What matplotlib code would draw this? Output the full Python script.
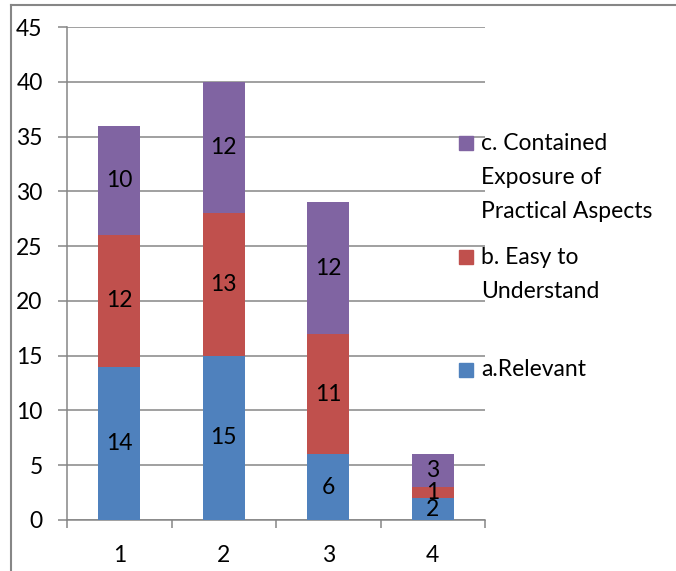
import matplotlib
matplotlib.use("Agg")
import matplotlib.pyplot as plt
from matplotlib.patches import Rectangle
from matplotlib.lines import Line2D
import numpy as np

plt.rcParams['font.family'] = ['Lato', 'DejaVu Sans']

categories = ['1', '2', '3', '4']
relevant = [14, 15, 6, 2]
easy = [12, 13, 11, 1]
practical = [10, 12, 12, 3]

series_names = ['a.Relevant', 'b. Easy to\nUnderstand', 'c. Contained\nExposure of\nPractical Aspects']
series_values = [relevant, easy, practical]
colors = ['#4F81BD', '#C0504D', '#8064A2']

W, H = 676, 571
fig = plt.figure(figsize=(W / 100, H / 100), dpi=100)
ax = fig.add_axes([67 / W, (H - 520) / H, (485 - 67) / W, (520 - 27) / H])

fs = 16.5
grid_c = '#868686'
x = np.arange(1, len(categories) + 1)
bottom = np.zeros(len(categories))
for vals, col in zip(series_values, colors):
    vals = np.array(vals, dtype=float)
    ax.bar(x, vals, 0.4, bottom=bottom, color=col, zorder=3)
    for xi, b, v in zip(x, bottom, vals):
        ax.text(xi, b + v / 2, f'{int(v)}', ha='center', va='center',
                fontsize=fs, color='black', zorder=4)
    bottom += vals

ax.set_xlim(0.5, 4.5)
ax.set_ylim(0, 45)
ax.set_yticks(range(0, 46, 5))
ax.yaxis.grid(True, color=grid_c, linewidth=1.1, zorder=0)
ax.set_axisbelow(True)

ax.set_xticks(np.arange(0.5, 4.6, 1.0))
ax.set_xticklabels([])
ax.set_xticks(x, minor=True)
ax.set_xticklabels(categories, minor=True)
ax.tick_params(axis='x', which='major', length=6, width=1.1, color=grid_c, direction='out')
ax.tick_params(axis='x', which='minor', length=0, pad=18, labelsize=fs)
ax.tick_params(axis='y', length=6.5, width=1.1, color=grid_c, pad=11, labelsize=fs)

for s in ['top', 'right']:
    ax.spines[s].set_visible(False)
for s in ['left', 'bottom']:
    ax.spines[s].set_color(grid_c)
    ax.spines[s].set_linewidth(1.1)

# legend drawn by hand (reverse order, Excel style)
first_line_y = [370, 257, 143]
line_gap = 34
for name, col, y0 in zip(series_names, colors, first_line_y):
    fig.add_artist(Rectangle((459 / W, (H - y0 - 7) / H), 14 / W, 14 / H,
                             transform=fig.transFigure, color=col))
    for k, line in enumerate(name.split('\n')):
        fig.text(481 / W, (H - y0 - k * line_gap) / H, line,
                 ha='left', va='center', fontsize=fs)

# outer frame
fig.add_artist(Line2D([11 / W, 11 / W], [0, (H - 5) / H], color=grid_c, lw=1.5))
fig.add_artist(Line2D([11 / W, 1], [(H - 5) / H, (H - 5) / H], color=grid_c, lw=1.5))

fig.savefig('out.png', dpi=100)
